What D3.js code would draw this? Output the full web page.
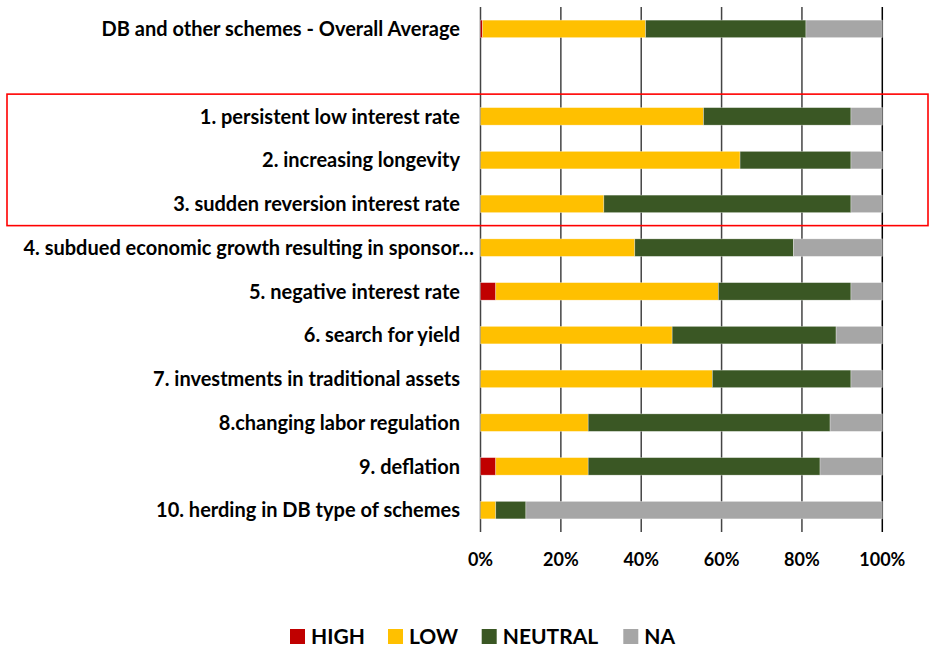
<!DOCTYPE html>
<html>
<head>
<meta charset="utf-8">
<script src="https://cdn.jsdelivr.net/npm/d3@7"></script>
<style>
  html, body { margin: 0; padding: 0; background: #fff; }
  svg { display: block; }
  text { font-family: Lato, "Open Sans", sans-serif; font-weight: bold; fill: #000; }
</style>
</head>
<body>
<svg id="chart" width="929" height="648"></svg>
<script>
// ---- data ----
const categories = [
  "DB and other schemes - Overall Average",
  "",
  "1. persistent low interest rate",
  "2. increasing longevity",
  "3. sudden reversion interest rate",
  "4. subdued economic growth resulting in sponsor\u2026",
  "5. negative interest rate",
  "6. search for yield",
  "7. investments in traditional assets",
  "8.changing labor regulation",
  "9. deflation",
  "10. herding in DB type of schemes"
];
const seriesNames = ["HIGH", "LOW", "NEUTRAL", "NA"];
const high    = [0.5, 0, 0,    0,    0,    0,    3.8, 0,    0,    0,    3.8, 0];
const low     = [40.6, 0, 55.5, 64.6, 30.7, 38.4, 55.4, 47.7, 57.7, 26.8, 23.0, 3.8];
const neutral = [39.9, 0, 36.7, 27.6, 61.5, 39.5, 33.0, 40.8, 34.5, 60.2, 57.7, 7.5];
const na      = [19.0, 0, 7.8,  7.8,  7.8,  22.1, 7.8,  11.5, 7.8,  13.0, 15.5, 88.7];
const tickValues = [0, 20, 40, 60, 80, 100];
const tickLabels = ["0%", "20%", "40%", "60%", "80%", "100%"];
const highlighted = ["1. persistent low interest rate", "3. sudden reversion interest rate"];
const colors = ["#C00000", "#FFC000", "#3A5724", "#A6A6A6"];

// ---- build table ----
const rows = categories.map((c, i) => ({
  cat: c === "" ? " " : c,
  label: c,
  HIGH: high[i], LOW: low[i], NEUTRAL: neutral[i], NA: na[i],
  empty: c === ""
}));

const svg = d3.select("#chart");

const x = d3.scaleLinear().domain([0, 100]).range([480.5, 882.3]);
const y = d3.scaleBand().domain(rows.map(d => d.cat)).range([7, 532])
  .paddingInner(0.6).paddingOuter(0.3);
const color = d3.scaleOrdinal().domain(seriesNames).range(colors);

// gridlines
svg.append("g").selectAll("line").data(tickValues).join("line")
  .attr("x1", d => x(d)).attr("x2", d => x(d))
  .attr("y1", y.range()[0]).attr("y2", y.range()[1])
  .attr("stroke", d => d === 100 ? "#000" : "#444")
  .attr("stroke-width", 1.5);

// stacked bars
const stack = d3.stack().keys(seriesNames);
const layers = stack(rows.filter(d => !d.empty));
svg.append("g").selectAll("g").data(layers).join("g")
  .attr("fill", d => color(d.key))
  .selectAll("rect").data(d => d.filter(s => s[1] - s[0] > 0)).join("rect")
  .attr("x", d => x(d[0]))
  .attr("width", d => x(d[1]) - x(d[0]))
  .attr("y", d => y(d.data.cat))
  .attr("height", y.bandwidth())
  .attr("stroke", "rgba(255,255,255,0.5)")
  .attr("stroke-width", 0.6);

// category labels
svg.append("g").selectAll("text").data(rows.filter(d => !d.empty)).join("text")
  .attr("x", d => d.label.endsWith("\u2026") ? 474 : 460)
  .attr("y", d => y(d.cat) + y.bandwidth() / 2)
  .attr("dy", "0.36em")
  .attr("text-anchor", "end")
  .style("font-size", "20px")
  .text(d => d.label);

// x axis labels
svg.append("g").selectAll("text").data(tickValues).join("text")
  .attr("x", d => x(d))
  .attr("y", 566)
  .attr("text-anchor", "middle")
  .style("font-size", "18px")
  .text((d, i) => tickLabels[i]);

// highlight box
const boxTop = y(highlighted[0]) - 13.5;
const boxBottom = y(highlighted[1]) + y.bandwidth() + 13;
svg.append("rect")
  .attr("x", 7).attr("y", boxTop)
  .attr("width", 921).attr("height", boxBottom - boxTop)
  .attr("fill", "none").attr("stroke", "#FF0000").attr("stroke-width", 1.6);

// legend
const legendX = [290, 388, 481.7, 623.3];
const lg = svg.append("g").selectAll("g").data(seriesNames).join("g")
  .attr("transform", (d, i) => `translate(${legendX[i]},629)`);
lg.append("rect").attr("width", 15).attr("height", 15).attr("fill", d => color(d));
lg.append("text").attr("x", 21).attr("y", 15)
  .style("font-size", "21px").text(d => d);
</script>
</body>
</html>
